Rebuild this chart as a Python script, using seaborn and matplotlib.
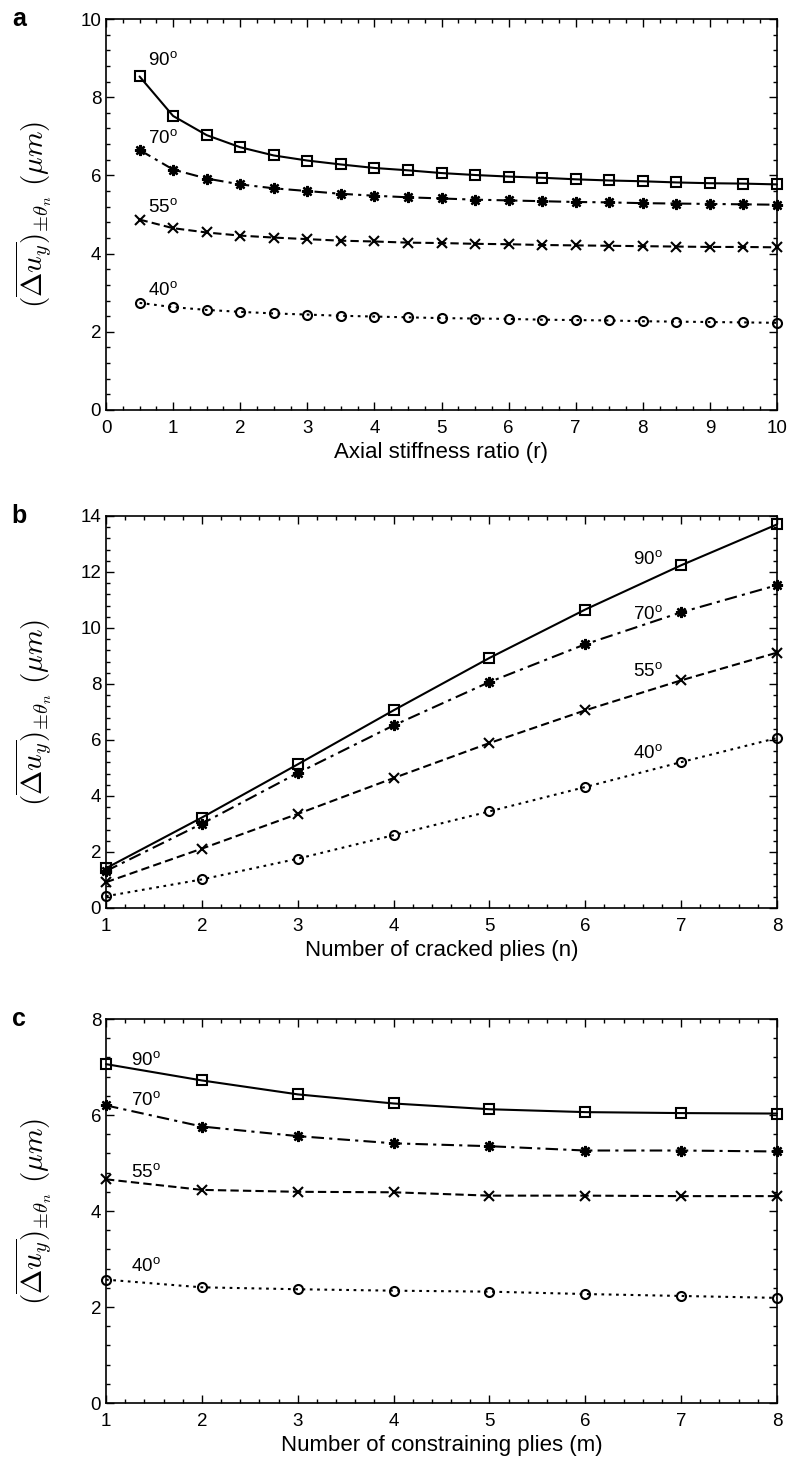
import numpy as np
import pandas as pd
import matplotlib
matplotlib.use("Agg")
import matplotlib.pyplot as plt
from matplotlib.ticker import MultipleLocator
import seaborn as sns

# ---------------- data ----------------
# Panel a: axial stiffness ratio r
r_vals = [0.5, 1, 1.5, 2, 2.5, 3, 3.5, 4, 4.5, 5, 5.5, 6, 6.5, 7, 7.5, 8, 8.5, 9, 9.5, 10]
a_90 = [8.53, 7.52, 7.03, 6.72, 6.51, 6.38, 6.28, 6.19, 6.13, 6.06, 6.01, 5.97, 5.94, 5.90, 5.87, 5.85, 5.82, 5.80, 5.79, 5.77]
a_70 = [6.65, 6.15, 5.92, 5.77, 5.67, 5.60, 5.53, 5.48, 5.44, 5.41, 5.38, 5.36, 5.34, 5.32, 5.31, 5.29, 5.28, 5.27, 5.26, 5.25]
a_55 = [4.87, 4.65, 4.54, 4.46, 4.41, 4.37, 4.33, 4.31, 4.28, 4.27, 4.25, 4.24, 4.22, 4.21, 4.20, 4.19, 4.18, 4.17, 4.17, 4.16]
a_40 = [2.74, 2.63, 2.56, 2.51, 2.47, 2.44, 2.41, 2.39, 2.37, 2.35, 2.34, 2.33, 2.31, 2.30, 2.29, 2.27, 2.26, 2.25, 2.24, 2.23]

# Panel b: number of cracked plies n
n_vals = [1, 2, 3, 4, 5, 6, 7, 8]
b_90 = [1.42, 3.23, 5.13, 7.06, 8.93, 10.66, 12.24, 13.70]
b_70 = [1.32, 3.01, 4.82, 6.52, 8.07, 9.42, 10.56, 11.53]
b_55 = [0.92, 2.12, 3.36, 4.64, 5.89, 7.06, 8.13, 9.12]
b_40 = [0.42, 1.02, 1.76, 2.60, 3.45, 4.32, 5.21, 6.07]

# Panel c: number of constraining plies m
m_vals = [1, 2, 3, 4, 5, 6, 7, 8]
c_90 = [7.06, 6.72, 6.43, 6.24, 6.12, 6.06, 6.04, 6.03]
c_70 = [6.20, 5.76, 5.56, 5.41, 5.35, 5.26, 5.26, 5.24]
c_55 = [4.66, 4.44, 4.40, 4.39, 4.32, 4.32, 4.31, 4.31]
c_40 = [2.57, 2.41, 2.37, 2.34, 2.32, 2.27, 2.23, 2.19]

angle_labels = ["90", "70", "55", "40"]

# ---------------- style ----------------
sns.set_theme(style="ticks")
plt.rcParams["font.family"] = ["Liberation Sans", "DejaVu Sans"]
plt.rcParams["mathtext.fontset"] = "custom"
plt.rcParams["mathtext.rm"] = "Liberation Sans"
plt.rcParams["mathtext.it"] = "Liberation Sans:italic"
plt.rcParams["text.color"] = "black"

W, H = 793, 1465
fig = plt.figure(figsize=(W / 100, H / 100), dpi=100)

def frac(left, top, right, bottom):
    return [left / W, 1 - bottom / H, (right - left) / W, (bottom - top) / H]

ax_a = fig.add_axes(frac(106, 19, 777, 410))
ax_b = fig.add_axes(frac(106, 516, 777, 908))
ax_c = fig.add_axes(frac(106, 1019, 777, 1403))

styles = {
    "90": dict(linestyle="-", marker="s", ms=7.5, mfc="none", mew=1.5),
    "70": dict(dashes=(6, 2.5, 1.5, 2.5), marker=(8, 2, 0), ms=8, mew=1.7),
    "55": dict(dashes=(4, 2), marker="x", ms=7, mew=1.5),
    "40": dict(dashes=(1.3, 2.2), marker="o", ms=6.5, mfc="none", mew=1.5),
}

ylab = r"$(\overline{\Delta u_y})_{\pm\theta_n}\ (\mu m)$"

def draw(ax, x, series, xlabel, xlim, ylim, xminor, ymajor, yminor, xmajor, labels, panel):
    for key, y in zip(angle_labels, series):
        df = pd.DataFrame({"x": x, "y": y})
        sns.lineplot(data=df, x="x", y="y", ax=ax, color="black", lw=1.5,
                     mec="black", clip_on=False, **styles[key])
    for key, (tx, ty) in zip(angle_labels, labels):
        ax.text(tx, ty, key + r"$^{\rm o}$", fontsize=13.5, ha="left",
                va="center", color="black")
    ax.set_xlim(*xlim)
    ax.set_ylim(*ylim)
    ax.xaxis.set_major_locator(MultipleLocator(xmajor))
    ax.xaxis.set_minor_locator(MultipleLocator(xminor))
    ax.yaxis.set_major_locator(MultipleLocator(ymajor))
    ax.yaxis.set_minor_locator(MultipleLocator(yminor))
    ax.tick_params(which="both", direction="in", top=True, right=True,
                   color="black", width=1.0, labelsize=13.5, labelcolor="black")
    ax.tick_params(which="major", length=5.5)
    ax.tick_params(which="minor", length=3)
    ax.tick_params(axis="x", pad=7)
    for s in ax.spines.values():
        s.set_linewidth(1.2)
        s.set_color("black")
    ax.set_xlabel(xlabel, fontsize=16, color="black", labelpad=4)
    ax.set_ylabel(ylab, fontsize=21, color="black", math_fontfamily="cm")
    ax.yaxis.set_label_coords(-0.078, 0.5)
    ax.text(-0.13, 1.0, panel, transform=ax.transAxes, fontsize=18,
            fontweight="bold", ha="center", va="center", color="black")

draw(ax_a, r_vals, [a_90, a_70, a_55, a_40], "Axial stiffness ratio (r)",
     (0, 10), (0, 10), 0.25, 2, 0.4, 1,
     [(0.62, 8.95), (0.62, 6.95), (0.62, 5.2), (0.62, 3.08)], "a")
draw(ax_b, n_vals, [b_90, b_70, b_55, b_40], "Number of cracked plies (n)",
     (1, 8), (0, 14), 0.2, 2, 0.4, 1,
     [(6.5, 12.45), (6.5, 10.5), (6.5, 8.45), (6.5, 5.55)], "b")
draw(ax_c, m_vals, [c_90, c_70, c_55, c_40], "Number of constraining plies (m)",
     (1, 8), (0, 8), 0.2, 2, 0.4, 1,
     [(1.26, 7.15), (1.26, 6.31), (1.26, 4.82), (1.26, 2.85)], "c")

fig.savefig("out.png", dpi=100)
